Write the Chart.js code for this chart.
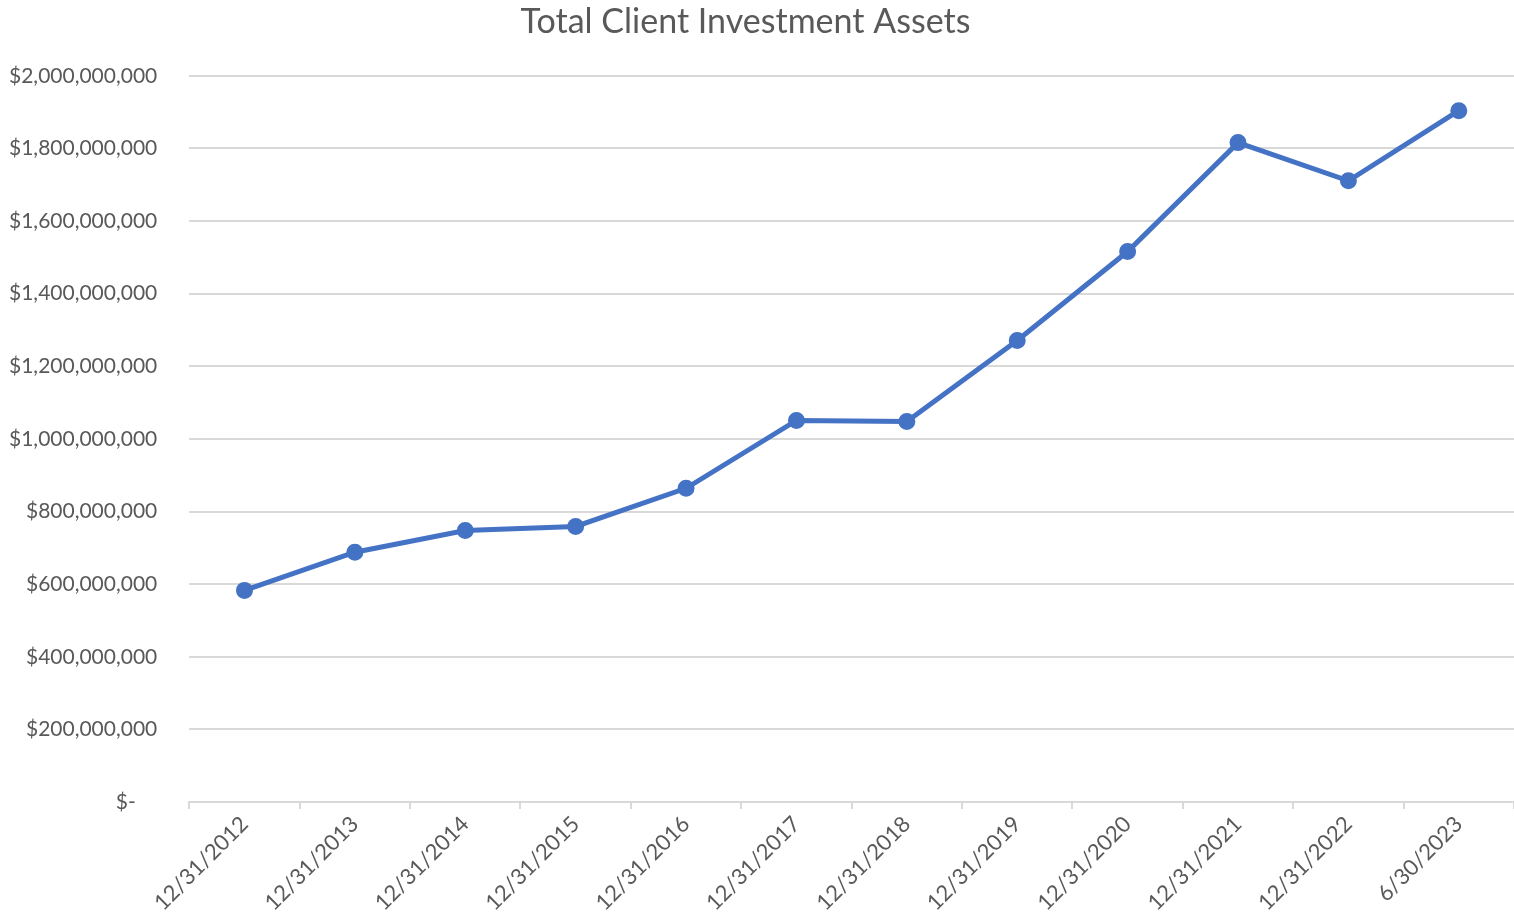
<!DOCTYPE html>
<html>
<head>
<meta charset="utf-8">
<script src="https://cdn.jsdelivr.net/npm/chart.js@4"></script>
<style>
  html, body { margin: 0; padding: 0; background: #fff; }
  #wrap { width: 1514px; height: 917px; }
</style>
</head>
<body>
<div id="wrap"><canvas id="assets-chart"></canvas></div>
<script>
const periods = ["12/31/2012", "12/31/2013", "12/31/2014", "12/31/2015", "12/31/2016", "12/31/2017",
    "12/31/2018", "12/31/2019", "12/31/2020", "12/31/2021", "12/31/2022", "6/30/2023"];
const totalAssets = [583e6, 688e6, 748e6, 759e6, 864e6, 1051e6, 1048e6, 1271e6, 1516e6, 1816e6, 1711e6, 1904e6];
const yTicks = [0, 2e8, 4e8, 6e8, 8e8, 1e9, 1.2e9, 1.4e9, 1.6e9, 1.8e9, 2e9];

const textColor = "#595959";
const gridColor = "#d9d9d9";
const fontFamily = "Lato, 'Open Sans', sans-serif";

function money(v) {
    if (v === 0) return "$-    ";
    return "$" + v.toLocaleString("en-US");
}

const ctx = document.getElementById("assets-chart").getContext("2d");
new Chart(ctx, {
    type: "line",
    data: {
        labels: periods,
        datasets: [{
            label: "Total Client Investment Assets",
            data: totalAssets,
            borderColor: "#4472c4",
            backgroundColor: "#4472c4",
            pointBackgroundColor: "#4472c4",
            pointBorderColor: "#4472c4",
            borderWidth: 5,
            pointRadius: 6,
            tension: 0,
            clip: false
        }]
    },
    options: {
        responsive: true,
        maintainAspectRatio: false,
        animation: false,
        layout: { autoPadding: false, padding: { left: -23, right: 0, top: 2, bottom: -1 } },
        plugins: {
            legend: { display: false },
            tooltip: { enabled: false },
            title: {
                display: true,
                text: "Total Client Investment Assets",
                color: textColor,
                font: { family: fontFamily, size: 34, weight: "normal" },
                padding: { top: 0, bottom: 33 }
            }
        },
        scales: {
            x: {
                offset: true,
                afterFit: s => { s.paddingRight = 0; },
                grid: {
                    offset: true,
                    drawOnChartArea: false,
                    drawTicks: true,
                    tickLength: 7,
                    color: gridColor,
                    lineWidth: 2
                },
                border: { color: gridColor, width: 2 },
                ticks: {
                    color: textColor,
                    font: { family: fontFamily, size: 22 },
                    minRotation: 45,
                    maxRotation: 45,
                    autoSkip: false,
                    padding: 2
                }
            },
            y: {
                min: 0,
                max: 2e9,
                afterBuildTicks: axis => { axis.ticks = yTicks.map(v => ({ value: v })); },
                grid: { color: gridColor, lineWidth: 2, drawTicks: false },
                border: { display: false },
                ticks: {
                    color: textColor,
                    font: { family: fontFamily, size: 21 },
                    padding: 32,
                    callback: v => money(v)
                }
            }
        }
    }
});
</script>
</body>
</html>
